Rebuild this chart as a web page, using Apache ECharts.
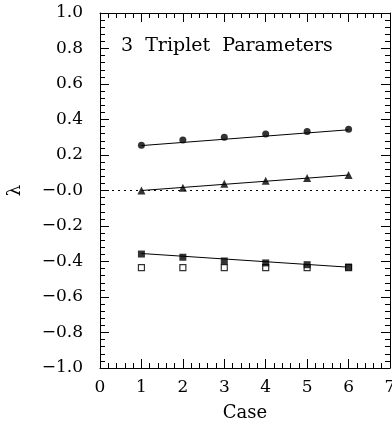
<!DOCTYPE html>
<html><head><meta charset="utf-8">
<script src="https://cdn.jsdelivr.net/npm/echarts@6/dist/echarts.min.js"></script>
<style>html,body{margin:0;padding:0;background:#fff}#c{width:392px;height:424px}</style>
</head><body><div id="c"></div>
<script>
const cases = [1, 2, 3, 4, 5, 6];
const circles = [0.255, 0.284, 0.300, 0.318, 0.333, 0.345];
const triangles = [0.0, 0.016, 0.038, 0.055, 0.070, 0.088];
const filledSquares = [-0.358, -0.376, -0.397, -0.408, -0.418, -0.431];
const openSquares = [-0.435, -0.435, -0.435, -0.435, -0.435, -0.435];
const fitCases = [1, 6];
const circleFit = [0.253, 0.342];
const triangleFit = [0.0, 0.087];
const squareFit = [-0.355, -0.432];
const zeroLine = [[0, 0], [7, 0]];
const xTicks = [0, 1, 2, 3, 4, 5, 6, 7];
const title = '3  Triplet  Parameters';

const pair = (xs, ys) => xs.map((x, i) => [x, ys[i]]);
const font = 'DejaVu Serif';
const fmtY = v => {
  const s = Math.abs(v).toFixed(1);
  return (v < 0 || Math.abs(v) < 1e-9) ? '\u2212' + s : s;
};
const axisCommon = {
  axisLine: {show: true, onZero: false, lineStyle: {color: '#000', width: 1}},
  axisTick: {show: true, inside: true, length: 9, lineStyle: {color: '#000'}},
  minorTick: {show: true, splitNumber: 5, length: 5, lineStyle: {color: '#000'}},
  splitLine: {show: false}
};
const chart = echarts.init(document.getElementById('c'), null, {renderer: 'canvas'});
chart.setOption({
  animation: false,
  backgroundColor: '#fff',
  grid: {left: 100, right: 2, top: 13, bottom: 56, containLabel: false, outerBoundsMode: 'none'},
  title: {text: title, left: 116, top: 32, textStyle: {fontFamily: font, fontSize: 19, fontWeight: 'normal', color: '#000'}},
  xAxis: [
    Object.assign({type: 'value', min: 0, max: 7, interval: 1, position: 'bottom',
      name: 'Case', nameLocation: 'middle', nameGap: 36,
      nameTextStyle: {fontFamily: font, fontSize: 18, color: '#000'},
      axisLabel: {fontFamily: font, fontSize: 17, color: '#000', margin: 11,
        formatter: v => String(xTicks[xTicks.indexOf(v)])}}, axisCommon),
    Object.assign({type: 'value', min: 0, max: 7, interval: 1, position: 'top',
      axisLabel: {show: false}}, axisCommon)
  ],
  yAxis: [
    Object.assign({type: 'value', min: -1, max: 1, interval: 0.2, position: 'left',
      name: 'λ', nameLocation: 'middle', nameGap: 76, nameRotate: 90,
      nameTextStyle: {fontFamily: font, fontSize: 18, color: '#000'},
      axisLabel: {fontFamily: font, fontSize: 17, color: '#000', margin: 17, formatter: fmtY}}, axisCommon),
    Object.assign({type: 'value', min: -1, max: 1, interval: 0.2, position: 'right',
      axisLabel: {show: false}}, axisCommon)
  ],
  series: [
    {type: 'line', data: zeroLine, symbol: 'none', lineStyle: {color: '#000', width: 1.2, type: [2, 4]}, z: 1},
    {type: 'line', data: pair(fitCases, circleFit), symbol: 'none', lineStyle: {color: '#000', width: 1}},
    {type: 'line', data: pair(fitCases, triangleFit), symbol: 'none', lineStyle: {color: '#000', width: 1}},
    {type: 'line', data: pair(fitCases, squareFit), symbol: 'none', lineStyle: {color: '#000', width: 1}},
    {type: 'scatter', data: pair(cases, circles), symbol: 'circle', symbolSize: 7, itemStyle: {color: '#000'}, z: 3},
    {type: 'scatter', data: pair(cases, triangles), symbol: 'triangle', symbolSize: 8, itemStyle: {color: '#000'}, z: 3},
    {type: 'scatter', data: pair(cases, openSquares), symbol: 'rect', symbolSize: 6, itemStyle: {color: '#fff', borderColor: '#000', borderWidth: 1.2}, z: 3},
    {type: 'scatter', data: pair(cases, filledSquares), symbol: 'rect', symbolSize: 7, itemStyle: {color: '#000'}, z: 4}
  ]
});
</script></body></html>
